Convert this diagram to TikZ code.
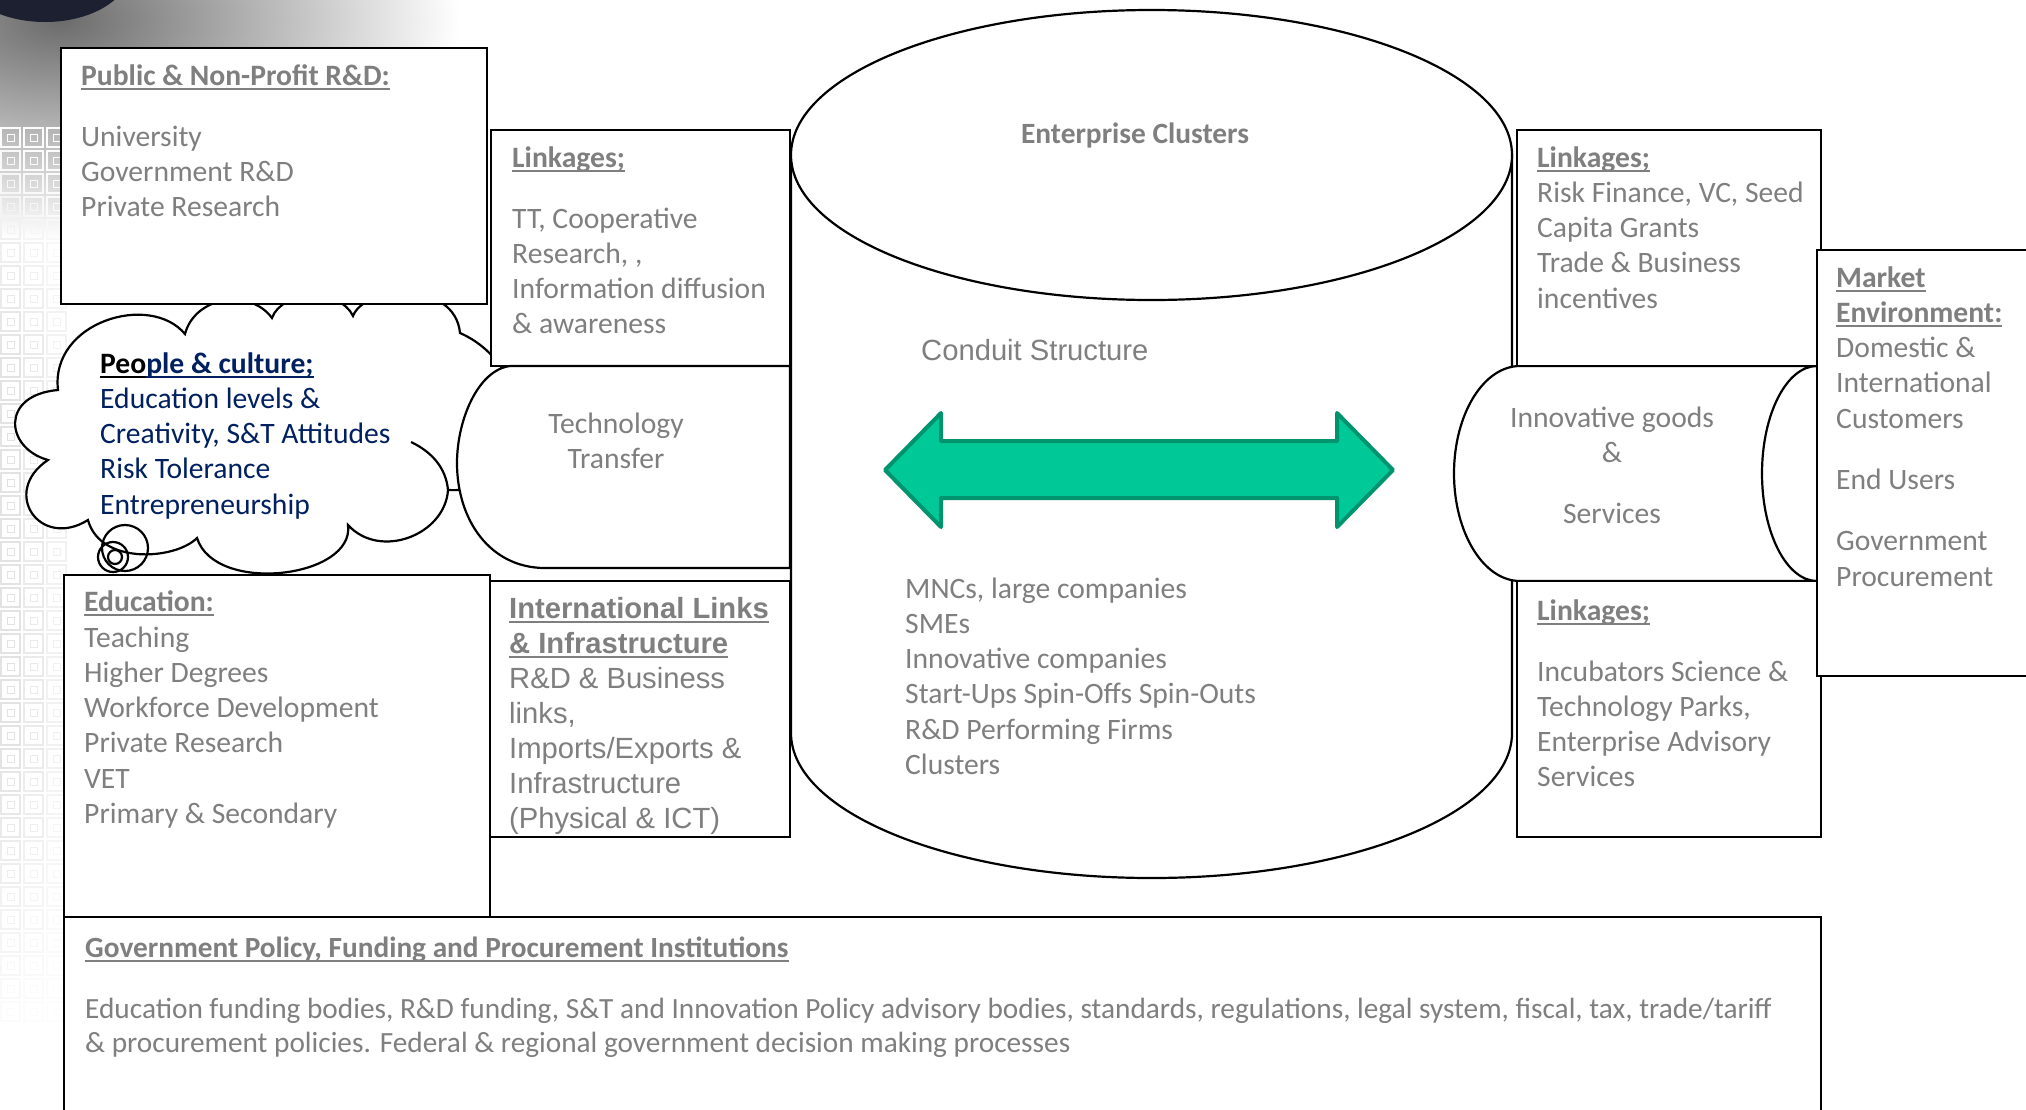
\documentclass[tikz,border=0pt]{standalone}
\usepackage{fontspec}
\setmainfont{Carlito}
\newfontfamily\arialf{Liberation Sans}
\usetikzlibrary{calc}
\definecolor{tgray}{RGB}{127,127,127}
\definecolor{navy}{RGB}{0,32,96}
\definecolor{agreen}{RGB}{0,201,151}
\definecolor{agreenD}{RGB}{0,148,110}
\definecolor{blob}{RGB}{28,32,48}
\newcommand\ml[1]{\vtop{\halign{##\hfil\cr#1\crcr}}}
\newcommand\mlc[1]{\vtop{\halign{\hfil##\hfil\cr#1\crcr}}}
\newcommand\ulx[1]{\setbox0\hbox{#1}\rlap{\vrule height -2.5pt depth 4.5pt width \wd0}\box0}
\begin{document}
\begin{tikzpicture}[x=1pt,y=-1pt,
  box/.style={draw=black, line width=2.2pt, fill=white},
  shp/.style={draw=black, line width=2.2pt, fill=white},
  txt/.style={anchor=base west, inner sep=0pt, text=tgray, font=\fontsize{29.6}{35.3}\selectfont},
  ctxt/.style={anchor=base, inner sep=0pt, text=tgray, font=\fontsize{29.6}{35.3}\selectfont},
  atxt/.style={anchor=base west, inner sep=0pt, text=tgray, font=\arialf\fontsize{29.2}{35}\selectfont}]
\useasboundingbox (0,0) rectangle (2026,1109);
\clip (0,0) rectangle (2026,1109);
% ---------- background decoration ----------
\shade[inner color=black!58, outer color=white] (60,20) ellipse[x radius=400, y radius=220];
\foreach \r in {0,...,38}{
  \foreach \c in {0,1,2}{
    \pgfmathsetmacro\yy{128+23*\r}
    \pgfmathsetmacro\xx{1+23*\c}
    \pgfmathsetmacro\g{max(0,min(1,(\yy-100)/250))*max(0,min(1,(1040-\yy)/300))*(1-0.25*\c)*22}
    \draw[gray!\g, line width=1.3pt] (\xx,\yy) rectangle ++(19,19);
    \draw[gray!\g, line width=0.8pt] (\xx+6,\yy+6) rectangle ++(7,7);
  }
}
\fill[blob] (45,-30) ellipse[x radius=85, y radius=52];
% ---------- cloud ----------
\draw[shp] (48,460) .. controls (5,448) and (0,395) .. (58,390)
  .. controls (50,322) and (150,292) .. (185,334)
  .. controls (195,296) and (250,288) .. (272,318)
  .. controls (282,290) and (340,288) .. (353,316)
  .. controls (365,285) and (455,280) .. (460,333)
  .. controls (540,368) and (540,495) .. (448,490)
  .. controls (445,535) and (380,560) .. (348,525)
  .. controls (355,578) and (215,595) .. (197,538)
  .. controls (175,560) and (100,565) .. (88,520)
  .. controls (40,550) and (0,492) .. (48,460) -- cycle;
\draw[line width=2.2pt] (411,442) .. controls (432,452) and (446,468) .. (448,490);
\draw[line width=2.2pt] (125,548) circle[radius=23];
\draw[line width=2.2pt] (113,557) circle[radius=15];
\draw[line width=2.2pt] (115,557) circle[radius=7];
% ---------- left column ----------
\path[box] (61,48) rectangle (487,304);
\path[box] (491,130) rectangle (790,366);
\path[shp] (790,366) -- (510,366) .. controls (478,370) and (457,420) .. (457,463)
  .. controls (457,520) and (490,568) .. (545,568) -- (790,568) -- cycle;
\path[box] (64,575) rectangle (490,917);
\path[box] (490,581) rectangle (790,837);
% ---------- cylinder ----------
\path[shp] (791,155) -- (791,733) arc[start angle=180, end angle=0, x radius=360.5, y radius=145] -- (1512,155) -- cycle;
\path[shp] (1151.5,155) ellipse[x radius=360.5, y radius=145];
\path[draw=agreenD, fill=agreen, line width=4pt, line join=round]
  (885,470) -- (941,413) -- (941,441) -- (1337,441) -- (1337,413) -- (1393,470)
  -- (1337,527) -- (1337,498) -- (941,498) -- (941,527) -- cycle;
% ---------- right column ----------
\path[shp] (1520,366) -- (1817,366) arc[start angle=270, end angle=90, x radius=55, y radius=107.5]
  -- (1520,581) arc[start angle=90, end angle=270, x radius=66, y radius=107.5] -- cycle;
\path[box] (1517,130) rectangle (1821,366);
\path[box] (1517,581) rectangle (1821,837);
\path[box] (1817,250) rectangle (2060,676);
\path[box] (64,917) rectangle (1821,1140);
% ---------- texts ----------
\node[txt] (pubT) at (81,85) {\textbf{\ulx{Public \& Non-Profit R\&D:}}};
\node[txt] (pub) at (81,146) {\ml{University\cr Government R\&D\cr Private Research}};
\node[txt, text=navy] (people) at (100,373) {\ml{\textbf{{\color{black}\ulx{Peo}}\ulx{ple \& culture;}}\cr
  Education levels \&\cr Creativity, S\&T Attitudes\cr Risk Tolerance\cr Entrepreneurship}};
\node[txt] (linkLT) at (512,167) {\textbf{\ulx{Linkages;}}};
\node[txt] (linkL) at (512,228) {\ml{TT, Cooperative\cr Research, ,\cr Information diffusion\cr \& awareness}};
\node[ctxt] (tt) at (616,433) {\mlc{Technology\cr Transfer}};
\node[txt] (eduT) at (84,611) {\textbf{\ulx{Education:}}};
\node[txt] (edu) at (84,647) {\ml{Teaching\cr Higher Degrees\cr Workforce Development\cr Private Research\cr VET\cr Primary \& Secondary}};
\node[atxt] (intl) at (509,618) {\ml{\textbf{\ulx{International Links}}\cr \textbf{\ulx{\& Infrastructure}}\cr
  R\&D \& Business\cr links,\cr Imports/Exports \&\cr Infrastructure\cr (Physical \& ICT)}};
\node[ctxt, font=\bfseries\fontsize{29.4}{35}\selectfont] (ent) at (1135,143) {Enterprise Clusters};
\node[atxt] (conduit) at (921,360) {Conduit Structure};
\node[txt] (firms) at (905,598) {\ml{MNCs, large companies\cr SMEs\cr Innovative companies\cr Start-Ups Spin-Offs Spin-Outs\cr R\&D Performing Firms\cr Clusters}};
\node[ctxt] (goods) at (1612,427) {\mlc{Innovative goods\cr \&\cr\noalign{\vskip26pt} Services}};
\node[txt] (linkR) at (1537,167) {\ml{\textbf{\ulx{Linkages;}}\cr Risk Finance, VC, Seed\cr Capita Grants\cr Trade \& Business\cr incentives}};
\node[txt] (linkRBT) at (1537,620) {\textbf{\ulx{Linkages;}}};
\node[txt] (linkRB) at (1537,681) {\ml{Incubators Science \&\cr Technology Parks,\cr Enterprise Advisory\cr Services}};
\node[txt] (market) at (1836,287) {\ml{\textbf{\ulx{Market}}\cr \textbf{\ulx{Environment:}}\cr Domestic \&\cr International\cr Customers\cr\noalign{\vskip26pt} End Users\cr\noalign{\vskip26pt} Government\cr Procurement}};
\node[txt, font=\fontsize{29.3}{35}\selectfont] (govT) at (85,957) {\textbf{\ulx{Government Policy, Funding and Procurement Institutions}}};
\node[txt, font=\fontsize{29.3}{34.5}\selectfont] (gov) at (85,1018) {\ml{Education funding bodies, R\&D funding, S\&T and Innovation Policy advisory bodies, standards, regulations, legal system, fiscal, tax, trade/tariff\cr
  \& procurement policies. Federal \& regional government decision making processes}};
\end{tikzpicture}
\end{document}
